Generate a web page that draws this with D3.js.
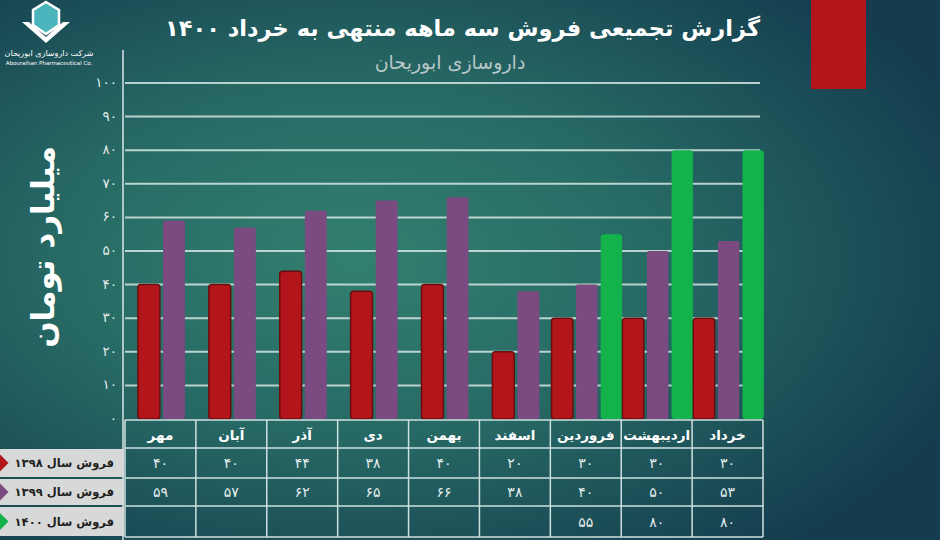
<!DOCTYPE html>
<html>
<head>
<meta charset="utf-8">
<script src="https://cdn.jsdelivr.net/npm/d3@7/dist/d3.min.js"></script>
<style>
  html, body { margin: 0; padding: 0; background: #173f4f; }
  svg { display: block; }
  text { font-family: "DejaVu Sans", sans-serif; }
</style>
</head>
<body>
<div id="chart"></div>
<script>
// Data
const months = ['مهر', 'آبان', 'آذر', 'دی', 'بهمن', 'اسفند', 'فروردین', 'اردیبهشت', 'خرداد'];
const sales1398 = [40, 40, 44, 38, 40, 20, 30, 30, 30];
const sales1399 = [59, 57, 62, 65, 66, 38, 40, 50, 53];
const sales1400 = [null, null, null, null, null, null, 55, 80, 80];
const seriesNames = ['فروش سال ۱۳۹۸', 'فروش سال ۱۳۹۹', 'فروش سال ۱۴۰۰'];
const yTicks = [0, 10, 20, 30, 40, 50, 60, 70, 80, 90, 100];

const title = 'گزارش تجمیعی فروش سه ماهه منتهی به خرداد ۱۴۰۰';
const subtitle = 'داروسازی ابوریحان';
const yTitle = 'میلیارد تومان';

const W = 940, H = 540;
const colors = ['#b3161a', '#7b4a80', '#13b24b'];
const strokes = ['#6b0d0f', 'none', 'none'];

// Persian digits
const fa = n => String(n).replace(/\d/g, d => '۰۱۲۳۴۵۶۷۸۹'[d]);

const svg = d3.select('#chart').append('svg')
    .attr('width', W)
    .attr('height', H);

// Background gradient
const defs = svg.append('defs');
const grad = defs.append('radialGradient')
    .attr('id', 'bg')
    .attr('cx', '38%').attr('cy', '48%').attr('r', '70%');
grad.append('stop').attr('offset', '0%').attr('stop-color', '#32806f');
grad.append('stop').attr('offset', '45%').attr('stop-color', '#276a65');
grad.append('stop').attr('offset', '100%').attr('stop-color', '#143c4e');

svg.append('rect')
    .attr('width', W).attr('height', H)
    .attr('fill', 'url(#bg)');

// Scales
const x = d3.scaleBand()
    .domain(months)
    .range([125, 763])
    .padding(0);

const y = d3.scaleLinear()
    .domain([0, 100])
    .range([419, 83]);

// Red block top right
svg.append('rect')
    .attr('x', 811).attr('y', 0)
    .attr('width', 55).attr('height', 89)
    .attr('fill', '#b3161a');

// Gridlines
svg.append('g')
    .selectAll('line')
    .data(yTicks.filter(d => d > 0))
    .enter()
    .append('line')
    .attr('x1', 125).attr('x2', 760)
    .attr('y1', d => y(d)).attr('y2', d => y(d))
    .style('stroke', '#d4e6e2')
    .style('stroke-width', 2)
    .style('opacity', 0.85);

// Y axis line
svg.append('line')
    .attr('x1', 123).attr('x2', 123)
    .attr('y1', 50).attr('y2', 540)
    .style('stroke', '#d8e6e6')
    .style('stroke-width', 1.5);

// Tick labels
svg.append('g')
    .selectAll('text')
    .data(yTicks)
    .enter()
    .append('text')
    .attr('x', 117)
    .attr('y', d => y(d) + 4)
    .attr('text-anchor', 'end')
    .style('font-size', '13.5px')
    .style('fill', '#e2ecec')
    .text(d => fa(d));

// Bars
const allSeries = [sales1398, sales1399, sales1400];
const barData = [];
months.forEach((m, i) => {
    const present = allSeries
        .map((s, k) => ({ k: k, v: s[i] }))
        .filter(d => d.v !== null);
    const inner = d3.scaleBand()
        .domain(present.map(d => d.k))
        .range([0, present.length * 23.5])
        .paddingInner(0.13);
    const offset = x(m) + (x.bandwidth() - present.length * 23.5) / 2 + 1;
    present.forEach(d => {
        barData.push({ month: m, k: d.k, v: d.v, x: offset + inner(d.k), w: inner.bandwidth() });
    });
});

svg.append('g')
    .selectAll('rect')
    .data(barData)
    .enter()
    .append('rect')
    .attr('x', d => d.x)
    .attr('y', d => y(d.v))
    .attr('width', d => d.w)
    .attr('height', d => y(0) - y(d.v))
    .attr('rx', d => d.k === 1 ? 1.5 : 3)
    .style('fill', d => colors[d.k])
    .style('stroke', d => strokes[d.k])
    .style('stroke-width', 1.5);

// Table
const rowY = [420, 448, 478, 506, 537];
const table = svg.append('g');

table.selectAll('.hline')
    .data(rowY)
    .enter()
    .append('line')
    .attr('x1', 125).attr('x2', 763)
    .attr('y1', d => d).attr('y2', d => d)
    .style('stroke', '#cfe0e0')
    .style('stroke-width', 1.5);

const vLines = months.map(m => x(m)).concat([x.range()[1]]);
table.selectAll('.vline')
    .data(vLines)
    .enter()
    .append('line')
    .attr('x1', d => d).attr('x2', d => d)
    .attr('y1', 420).attr('y2', 537)
    .style('stroke', '#cfe0e0')
    .style('stroke-width', 1.5);

table.selectAll('.month')
    .data(months)
    .enter()
    .append('text')
    .attr('x', d => x(d) + x.bandwidth() / 2)
    .attr('y', 440)
    .attr('text-anchor', 'middle')
    .style('font-size', '13.5px')
    .style('font-weight', 'bold')
    .style('fill', '#ffffff')
    .text(d => d);

allSeries.forEach((s, k) => {
    table.append('g')
        .selectAll('text')
        .data(s.map((v, i) => ({ m: months[i], v: v })).filter(d => d.v !== null))
        .enter()
        .append('text')
        .attr('x', d => x(d.m) + x.bandwidth() / 2)
        .attr('y', (rowY[k + 1] + rowY[k + 2]) / 2 + 5)
        .attr('text-anchor', 'middle')
        .style('font-size', '14px')
        .style('fill', '#e6eeee')
        .text(d => fa(d.v));
});

// Legend
const legend = svg.append('g');
seriesNames.forEach((name, k) => {
    const top = rowY[k + 1];
    const h = rowY[k + 2] - top;
    legend.append('rect')
        .attr('x', 0).attr('y', top + 1)
        .attr('width', 124).attr('height', h - 2)
        .style('fill', '#d7d8d8');
    legend.append('rect')
        .attr('x', -6).attr('y', top + h / 2 - 6)
        .attr('width', 12).attr('height', 12)
        .attr('transform', `rotate(45, 0, ${top + h / 2})`)
        .style('fill', colors[k]);
    legend.append('text')
        .attr('x', 114)
        .attr('y', top + h / 2 + 4)
        .attr('text-anchor', 'end')
        .style('font-size', '11.5px')
        .style('font-weight', 'bold')
        .style('fill', '#1e1e1e')
        .text(name);
});

// Titles
svg.append('text')
    .attr('x', 760).attr('y', 36)
    .attr('text-anchor', 'end')
    .style('font-size', '22.5px')
    .style('font-weight', 'bold')
    .style('fill', '#ffffff')
    .text(title);

svg.append('text')
    .attr('x', 450).attr('y', 69)
    .attr('text-anchor', 'middle')
    .style('font-size', '19px')
    .style('fill', '#b9c6c6')
    .text(subtitle);

svg.append('text')
    .attr('transform', 'translate(54, 247) rotate(-90)')
    .attr('text-anchor', 'middle')
    .style('font-size', '31px')
    .style('font-weight', 'bold')
    .style('fill', '#ffffff')
    .text(yTitle);

// Logo
const logo = svg.append('g');
logo.append('path')
    .attr('d', 'M22,22 L46,43 L70,22 L63,22 L46,37 L29,22 Z')
    .style('fill', '#ffffff');
logo.append('path')
    .attr('d', 'M46,2 L59,10 L59,25 L46,34 L33,25 L33,10 Z')
    .style('fill', '#4bb5bd')
    .style('stroke', '#ffffff')
    .style('stroke-width', 2.5);
logo.append('text')
    .attr('x', 49).attr('y', 56)
    .attr('text-anchor', 'middle')
    .style('font-size', '8px')
    .style('fill', '#ffffff')
    .text('شرکت داروسازی ابوریحان');
logo.append('text')
    .attr('x', 49).attr('y', 65)
    .attr('text-anchor', 'middle')
    .style('font-size', '5.5px')
    .style('fill', '#ffffff')
    .text('Abouraihan Pharmaceutical Co.');
</script>
</body>
</html>
